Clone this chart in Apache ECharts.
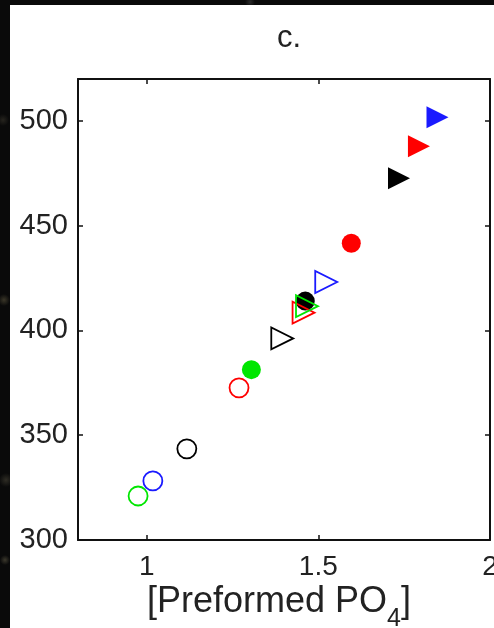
<!DOCTYPE html>
<html>
<head>
<meta charset="utf-8">
<script src="https://cdn.jsdelivr.net/npm/echarts@6/dist/echarts.min.js"></script>
<style>
html,body{margin:0;padding:0;width:494px;height:628px;overflow:hidden;
background:#0a0a0a;
background-image:radial-gradient(circle at 4px 300px,#3a3628 0,transparent 6px),
radial-gradient(circle at 6px 480px,#2e2c24 0,transparent 7px),
radial-gradient(circle at 3px 120px,#26241e 0,transparent 6px),
radial-gradient(circle at 250px 2px,#2a2a2a 0,transparent 5px),
radial-gradient(circle at 5px 560px,#3b382c 0,transparent 5px);}
#c{width:494px;height:628px;}
</style>
</head>
<body>
<div id="c"></div>
<script>
// x-axis: [Preformed PO4], y-axis values
const xTicks = [1, 1.5, 2];
const yTicks = [300, 350, 400, 450, 500];

// open circles (groups: G, B, K, R)
const openCircleGroup = ['G', 'B', 'K', 'R'];
const openCircleX = [0.975, 1.018, 1.117, 1.269];
const openCircleY = [321.0, 328.2, 343.5, 372.6];

// filled circles
const filledCircleGroup = ['G', 'K', 'R'];
const filledCircleX = [1.305, 1.462, 1.596];
const filledCircleY = [381.3, 414.0, 441.6];

// open triangles
const openTriangleGroup = ['K', 'R', 'G', 'B'];
const openTriangleX = [1.395, 1.457, 1.467, 1.523];
const openTriangleY = [396.2, 408.5, 411.6, 423.1];

// filled triangles
const filledTriangleGroup = ['K', 'R', 'B'];
const filledTriangleX = [1.735, 1.793, 1.847];
const filledTriangleY = [472.6, 487.9, 501.8];

// styles
const groupColor = { G: '#00e600', B: '#1a1aff', K: '#000000', R: '#ff0000' };
const FONT = 'Liberation Sans';
const TXT = '#222';

function makeSeries(groups, xs, ys, symbol, filled, z) {
  return groups.map((g, i) => ({
    type: 'scatter',
    name: g,
    z: z,
    symbol: symbol,
    symbolSize: symbol === 'triangle' ? 22 : 19,
    symbolRotate: symbol === 'triangle' ? -90 : 0,
    itemStyle: filled
      ? { color: groupColor[g], borderWidth: 0, opacity: 1 }
      : { color: 'rgba(0,0,0,0)', borderColor: groupColor[g], borderWidth: 1.8, opacity: 1 },
    emphasis: { disabled: true },
    data: [[xs[i], ys[i]]]
  }));
}

const series = [].concat(
  makeSeries(openCircleGroup, openCircleX, openCircleY, 'circle', false, 2),
  makeSeries(filledCircleGroup, filledCircleX, filledCircleY, 'circle', true, 3),
  makeSeries(openTriangleGroup, openTriangleX, openTriangleY, 'triangle', false, 4),
  makeSeries(filledTriangleGroup, filledTriangleX, filledTriangleY, 'triangle', true, 4)
);

const axisLine = { show: true, onZero: false, lineStyle: { color: '#111', width: 2 } };
const tick = { show: true, inside: true, length: 5, lineStyle: { color: '#111', width: 1.5 } };

const chart = echarts.init(document.getElementById('c'), null, { renderer: 'canvas' });
chart.setOption({
  backgroundColor: 'transparent',
  animation: false,
  graphic: [{
    type: 'rect', z: -100, silent: true,
    shape: { x: 10, y: 5, width: 484, height: 623 },
    style: { fill: '#ffffff' }
  }, {
    type: 'text', z: 10, silent: true,
    left: 147, top: 584,
    style: {
      text: '{a|[Preformed PO}{s|4}{a|]}',
      rich: {
        a: { fontFamily: FONT, fontSize: 36, fill: TXT },
        s: { fontFamily: FONT, fontSize: 25, fill: TXT, padding: [34, 0, 0, 0] }
      }
    }
  }],
  title: {
    text: 'c.', left: 284, top: 18, textAlign: 'center',
    textStyle: { fontFamily: FONT, fontSize: 31, fontWeight: 'normal', color: TXT }
  },
  grid: { left: 78, right: 4, top: 79, bottom: 88, containLabel: false, outerBoundsMode: 'none' },
  xAxis: [{
    type: 'value', min: 0.8, max: 2, interval: 0.5,
    axisLine: axisLine, splitLine: { show: false },
    axisLabel: {
      fontFamily: FONT, fontSize: 28, color: TXT, margin: 13,
      customValues: xTicks,
      formatter: v => String(v)
    },
    axisTick: Object.assign({}, tick, { customValues: xTicks })
  }, {
    type: 'value', position: 'top', min: 0.8, max: 2,
    axisLine: axisLine, splitLine: { show: false },
    axisLabel: { show: false, customValues: xTicks },
    axisTick: Object.assign({}, tick, { customValues: xTicks })
  }],
  yAxis: [{
    type: 'value', min: 300, max: 520, interval: 50,
    axisLine: axisLine, splitLine: { show: false },
    axisTick: Object.assign({}, tick, { customValues: yTicks }),
    axisLabel: { fontFamily: FONT, fontSize: 29, color: TXT, margin: 10, customValues: yTicks }
  }, {
    type: 'value', position: 'right', min: 300, max: 520, interval: 50,
    axisLine: axisLine, splitLine: { show: false },
    axisTick: Object.assign({}, tick, { customValues: yTicks }),
    axisLabel: { show: false, customValues: yTicks }
  }],
  series: series
});
</script>
</body>
</html>
